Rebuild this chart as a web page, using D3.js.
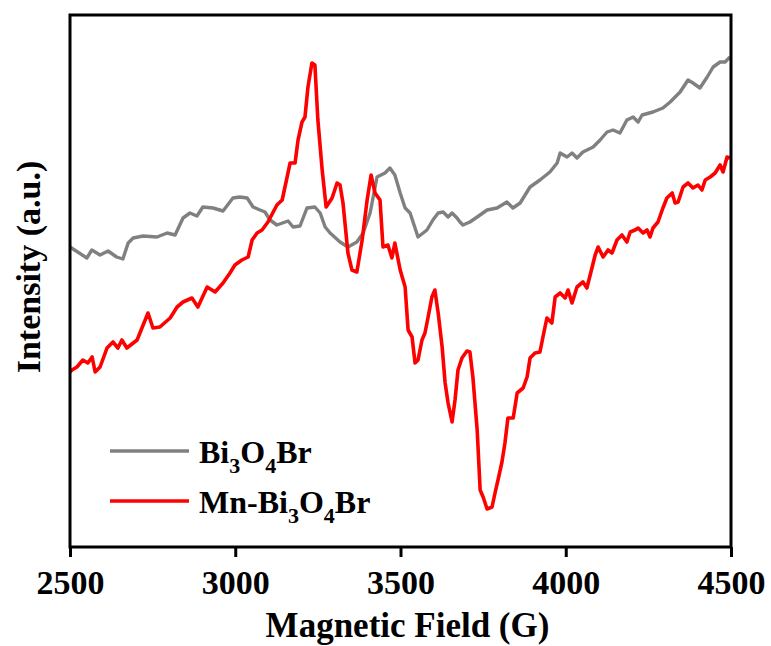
<!DOCTYPE html>
<meta charset="utf-8">
<script src="https://d3js.org/d3.v7.min.js"></script>
<style>
  body { margin: 0; background: #fff; }
  text { font-family: "Liberation Serif", "Times New Roman", serif; font-weight: bold; }
</style>
<div id="chart"></div>
<script>
// magnetic field (G) and intensity (a.u.)
const fieldBi = [2500,2551,2566,2591,2615,2641,2660,2676,2691,2721,2763,2794,2818,2842,2863,2884,2902,2933,2963,2993,3014,3036,3054,3075,3090,3105,3126,3160,3175,3196,3217,3241,3257,3272,3287,3317,3341,3368,3387,3408,3429,3453,3468,3483,3499,3514,3529,3553,3580,3598,3614,3629,3644,3656,3671,3680,3689,3710,3732,3762,3792,3822,3840,3862,3892,3922,3952,3974,3983,4004,4019,4034,4052,4083,4104,4125,4143,4164,4185,4204,4219,4231,4264,4294,4316,4346,4370,4385,4406,4428,4446,4467,4482,4497];
const intBi = [300,289,297,292,296,290,288,304,309,311,310,314,312,329,334,331,340,339,336,349,350,349,340,337,335,327,322,326,320,321,339,340,334,320,314,305,300,305,314,334,370,374,379,372,354,339,334,310,317,327,334,335,330,334,329,325,322,325,330,337,339,345,339,344,360,367,375,384,394,390,394,389,395,400,407,415,417,414,427,430,425,432,435,439,445,455,467,464,459,470,480,485,485,490];

const fieldMn = [2500,2506,2521,2539,2554,2567,2576,2591,2612,2630,2645,2657,2672,2703,2736,2751,2772,2803,2824,2842,2869,2887,2915,2939,2963,2984,2999,3020,3039,3051,3066,3081,3099,3126,3142,3166,3181,3190,3202,3211,3220,3232,3241,3250,3263,3275,3293,3308,3317,3326,3341,3353,3368,3384,3399,3411,3423,3438,3447,3462,3474,3483,3499,3514,3523,3535,3544,3553,3565,3574,3583,3595,3604,3614,3626,3635,3644,3656,3665,3674,3686,3701,3710,3719,3732,3741,3750,3762,3777,3786,3795,3807,3816,3825,3841,3853,3871,3883,3892,3907,3922,3931,3943,3958,3968,3983,3998,4007,4019,4034,4052,4064,4080,4089,4098,4113,4128,4140,4155,4170,4185,4195,4210,4219,4234,4246,4255,4264,4279,4294,4306,4322,4331,4340,4355,4370,4385,4400,4412,4422,4437,4452,4467,4476,4488,4497];
const intMn = [175,177,180,187,184,190,175,180,199,205,199,207,199,207,234,219,220,229,240,245,249,240,260,255,264,274,282,287,290,307,314,317,325,342,347,384,384,407,425,430,460,484,482,427,377,340,349,364,362,344,294,277,275,307,347,372,354,347,300,302,289,304,277,260,217,210,184,187,207,214,229,250,257,234,200,164,144,125,147,177,189,196,195,170,117,57,50,38,40,54,67,85,104,129,129,154,159,170,189,194,195,210,229,224,250,254,249,257,244,260,265,259,280,292,300,290,297,294,307,312,305,315,317,319,314,317,310,319,325,339,349,354,344,345,360,364,359,362,357,367,370,374,382,375,390,389];

const xTicks = [2500, 3000, 3500, 4000, 4500];
const seriesNames = ["Bi3O4Br", "Mn-Bi3O4Br"];
const serif = '"Liberation Serif", "Times New Roman", serif';

const margin = {top: 15, right: 40, bottom: 99, left: 70},
    width = 771 - margin.left - margin.right,
    height = 646 - margin.top - margin.bottom;

const svg = d3.select("#chart")
    .append("svg")
    .attr("width", 771)
    .attr("height", 646)
    .append("g")
    .attr("transform", `translate(${margin.left}, ${margin.top})`);

const x = d3.scaleLinear().domain([2500, 4500]).range([0, width]);
const y = d3.scaleLinear().domain([0, 532]).range([height, 0]);

// x axis, ticks outward
const xAxis = svg.append("g")
    .attr("transform", `translate(0, ${height})`)
    .call(d3.axisBottom(x).tickValues(xTicks).tickSize(10).tickSizeOuter(0).tickFormat(d3.format("d")))
    .attr("font-family", serif)
    .attr("font-size", 34);
xAxis.select(".domain").remove();
xAxis.selectAll(".tick line").attr("stroke", "#000").attr("stroke-width", 3);
xAxis.selectAll(".tick text")
    .attr("fill", "#000")
    .attr("font-family", serif)
    .attr("font-weight", "bold")
    .attr("dy", null)
    .attr("y", 47);

// lines
const line = (xs, ys) => d3.line()
    .x((d, i) => x(xs[i]))
    .y((d, i) => y(ys[i]))(xs);

svg.append("path")
    .attr("d", line(fieldBi, intBi))
    .attr("fill", "none")
    .attr("stroke", "#808080")
    .attr("stroke-width", 3.4)
    .attr("stroke-linejoin", "round");

svg.append("path")
    .attr("d", line(fieldMn, intMn))
    .attr("fill", "none")
    .attr("stroke", "#ff0000")
    .attr("stroke-width", 3.6)
    .attr("stroke-linejoin", "round");

// frame
svg.append("rect")
    .attr("width", width)
    .attr("height", height)
    .attr("fill", "none")
    .attr("stroke", "#000")
    .attr("stroke-width", 3);

// axis titles
svg.append("text")
    .attr("x", width / 2 + 7)
    .attr("y", height + 90)
    .attr("text-anchor", "middle")
    .attr("font-size", 35)
    .text("Magnetic Field (G)");

svg.append("text")
    .attr("transform", `translate(${40 - margin.left}, ${267 - margin.top}) rotate(-90)`)
    .attr("text-anchor", "middle")
    .attr("font-size", 34)
    .text("Intensity (a.u.)");

// legend
const legend = svg.append("g").attr("transform", `translate(${110 - margin.left}, ${451 - margin.top})`);
const legColors = ["#808080", "#ff0000"];
seriesNames.forEach((name, i) => {
    const g = legend.append("g").attr("transform", `translate(0, ${i * 50})`);
    g.append("line").attr("x1", 0).attr("x2", 79).attr("stroke", legColors[i]).attr("stroke-width", 3.4);
    const t = g.append("text").attr("x", 89).attr("y", 12).attr("font-size", 32);
    // digits of the formula go to subscript
    let prevSub = false;
    name.split(/(\d)/).filter(s => s.length).forEach(part => {
        const isSub = /\d/.test(part);
        const dy = isSub ? 10 : (prevSub ? -10 : 0);
        const ts = t.append("tspan").attr("dy", dy).text(part);
        if (isSub) ts.attr("font-size", 22);
        prevSub = isSub;
    });
});
</script>
